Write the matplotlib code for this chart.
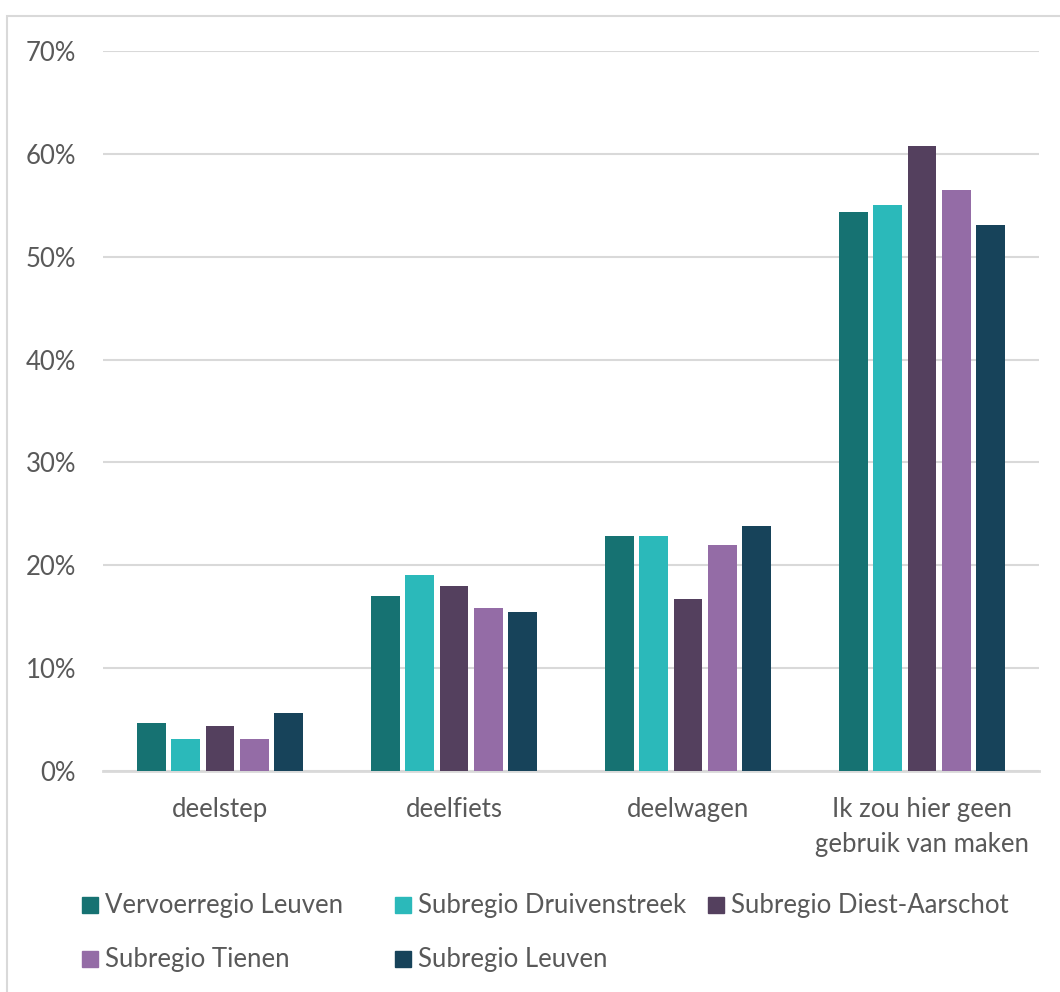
import matplotlib.pyplot as plt
import matplotlib.patches as mpatches
import numpy as np

# Data (percentages).
categories = ["deelstep", "deelfiets", "deelwagen", "Ik zou hier geen\ngebruik van maken"]
series_names = ["Vervoerregio Leuven", "Subregio Druivenstreek", "Subregio Diest-Aarschot",
                "Subregio Tienen", "Subregio Leuven"]
vervoerregio_leuven = [4.7, 17.0, 22.8, 54.3]
subregio_druivenstreek = [3.1, 19.1, 22.8, 55.0]
subregio_diest_aarschot = [4.4, 18.0, 16.7, 60.8]
subregio_tienen = [3.1, 15.8, 22.0, 56.5]
subregio_leuven = [5.6, 15.5, 23.8, 53.1]
y_ticks = [0, 10, 20, 30, 40, 50, 60, 70]

series_values = [vervoerregio_leuven, subregio_druivenstreek, subregio_diest_aarschot,
                 subregio_tienen, subregio_leuven]
colors = ["#167272", "#2BB9BA", "#54405E", "#946CA6", "#17435A"]

TEXT = "#595959"
GRID = "#D9D9D9"
FS = 18.5
plt.rcParams["font.family"] = ["Lato", "DejaVu Sans"]

W, H = 1060, 992
fig = plt.figure(figsize=(W / 100, H / 100), dpi=100)

# Light grey frame around the chart area (Excel chart border).
fig.patches.append(mpatches.Rectangle((7 / W, -0.1), 1.2, 1 - 16 / H + 0.1, transform=fig.transFigure,
                                      fill=False, edgecolor=GRID, linewidth=1.5))

ax = fig.add_axes([103 / W, 1 - 771 / H, (1039 - 103) / W, (771 - 51) / H])

x = np.arange(len(categories))
bar_w = 0.123
pitch = 0.147
for i, (vals, col) in enumerate(zip(series_values, colors)):
    ax.bar(x + (i - 2) * pitch, vals, width=bar_w, color=col, zorder=3)

ax.set_xlim(-0.5, len(categories) - 0.5)
ax.set_ylim(0, 70)
ax.set_yticks(y_ticks)
ax.set_yticklabels([f"{t}%" for t in y_ticks])
ax.set_xticks(x)
ax.set_xticklabels(categories, linespacing=1.5)
ax.tick_params(axis="both", length=0, labelsize=FS, colors=TEXT)
ax.tick_params(axis="y", pad=19.5)
ax.tick_params(axis="x", pad=19)
ax.grid(axis="y", color=GRID, linewidth=1.5, zorder=0)
for s in ["top", "right", "left"]:
    ax.spines[s].set_visible(False)
ax.spines["bottom"].set_color(GRID)
ax.spines["bottom"].set_linewidth(2)

# Legend laid out like Excel: equal column widths, three per row.
for i, (name, col) in enumerate(zip(series_names, colors)):
    cx = 82 + (i % 3) * 313
    cy = 905 + (i // 3) * 54
    fig.patches.append(mpatches.Rectangle((cx / W, 1 - (cy + 8) / H), 16 / W, 16 / H,
                                          transform=fig.transFigure, color=col))
    fig.text((cx + 23) / W, 1 - cy / H, name, fontsize=FS, color=TEXT, va="center", ha="left")

fig.savefig("out.png", dpi=100)
